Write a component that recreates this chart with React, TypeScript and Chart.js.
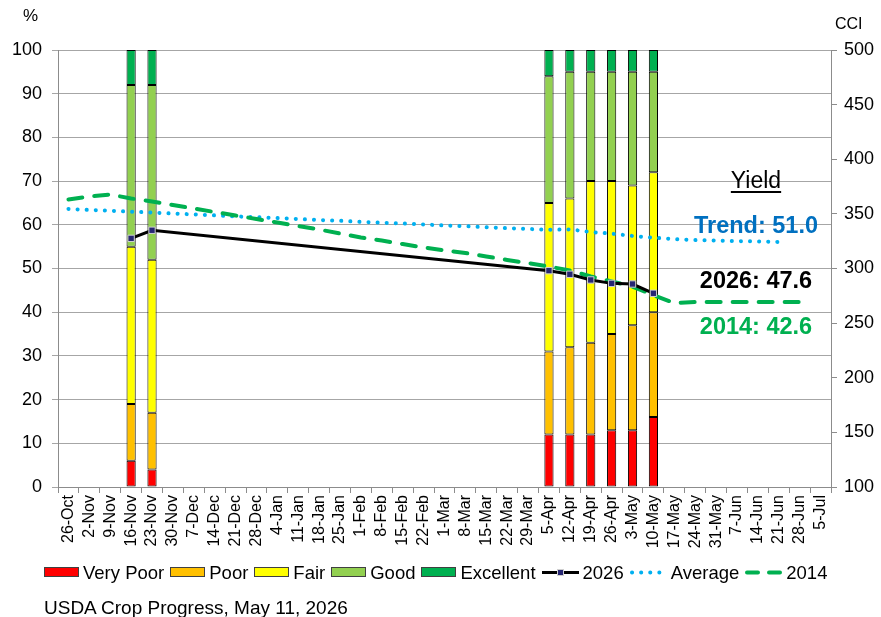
import React, { useEffect, useRef } from "react";
import { Chart, registerables } from "chart.js";

Chart.register(...registerables);

const weeks = [
  "26-Oct", "2-Nov", "9-Nov", "16-Nov", "23-Nov", "30-Nov", "7-Dec", "14-Dec", "21-Dec", "28-Dec",
  "4-Jan", "11-Jan", "18-Jan", "25-Jan", "1-Feb", "8-Feb", "15-Feb", "22-Feb", "1-Mar", "8-Mar",
  "15-Mar", "22-Mar", "29-Mar", "5-Apr", "12-Apr", "19-Apr", "26-Apr", "3-May", "10-May", "17-May",
  "24-May", "31-May", "7-Jun", "14-Jun", "21-Jun", "28-Jun", "5-Jul",
];

// Weeks with a condition report
const ratedWeeks = ["16-Nov", "23-Nov", "5-Apr", "12-Apr", "19-Apr", "26-Apr", "3-May", "10-May"];
const veryPoor = [6, 4, 12, 12, 12, 13, 13, 16];
const poor = [13, 13, 19, 20, 21, 22, 24, 24];
const fair = [36, 35, 34, 34, 37, 35, 32, 32];
const good = [37, 40, 29, 29, 25, 25, 26, 23];
const excellent = [8, 8, 6, 5, 5, 5, 5, 5];
const cci2026 = [327.6, 335.0, 298.0, 294.7, 289.5, 286.4, 285.8, 277.3];

// Weekly CCI, starting 26-Oct
const cciAverage = [
  354.5, 353.6, 352.9, 352.0, 351.2, 350.3, 349.5, 348.6, 347.7, 346.9,
  346.2, 345.3, 344.4, 343.7, 342.7, 341.9, 341.2, 340.3, 339.4, 338.7,
  337.8, 336.9, 336.2, 335.4, 335.8, 333.4, 331.9, 329.8, 328.2, 326.9,
  326.0, 325.6, 325.1, 324.8, 324.3,
];
const cci2014 = [
  363.2, 365.9, 367.7, 364.1, 361.3, 358.1, 354.9, 351.7, 348.5, 345.3,
  342.1, 338.9, 335.7, 332.0, 328.4, 325.6, 322.4, 319.2, 316.5, 314.2,
  311.0, 307.8, 305.0, 301.8, 298.2, 292.7, 288.1, 283.5, 275.7, 268.4,
  269.3, 269.3, 269.3, 269.3, 269.3, 269.3,
];

const yLeftTicks = { min: 0, max: 100, step: 10 };
const yRightTicks = { min: 100, max: 500, step: 50 };

const yieldTitle = "Yield";
const yieldNotes = [
  { text: "Trend: 51.0", color: "#0070C0", center: 225 },
  { text: "2026: 47.6", color: "#000000", center: 280 },
  { text: "2014: 42.6", color: "#00B050", center: 326 },
];
const footer = "USDA Crop Progress, May 11, 2026";

const FONT = "'Liberation Sans', Arial, Helvetica, sans-serif";
const C_VP = "#FF0000";
const C_P = "#FFC000";
const C_F = "#FFFF00";
const C_G = "#92D050";
const C_E = "#00B050";
const C_AVG = "#00B0F0";
const C_2014 = "#00B050";
const C_MARK = "#262673";

function expand(vals: number[]): (number | null)[] {
  return weeks.map((w) => {
    const i = ratedWeeks.indexOf(w);
    return i >= 0 ? vals[i] : null;
  });
}
function pad(vals: number[]): (number | null)[] {
  return weeks.map((_, i) => (i < vals.length ? vals[i] : null));
}

const legendItems = [
  { label: "Very Poor", kind: "box", color: C_VP },
  { label: "Poor", kind: "box", color: C_P },
  { label: "Fair", kind: "box", color: C_F },
  { label: "Good", kind: "box", color: C_G },
  { label: "Excellent", kind: "box", color: C_E },
  { label: "2026", kind: "marker", color: "#000" },
  { label: "Average", kind: "dots", color: C_AVG },
  { label: "2014", kind: "dash", color: C_2014 },
];

function Swatch({ kind, color }: { kind: string; color: string }) {
  if (kind === "box") {
    return (
      <svg width={35} height={11} style={{ display: "block" }}>
        <rect x={0.5} y={0.5} width={34} height={9} fill={color} stroke="#404040" strokeWidth={1} />
      </svg>
    );
  }
  if (kind === "marker") {
    return (
      <svg width={37} height={11} style={{ display: "block" }}>
        <line x1={0} y1={5.5} x2={37} y2={5.5} stroke="#000" strokeWidth={3} />
        <rect x={15.5} y={2.5} width={6} height={6} fill={C_MARK} stroke="#d0d0d0" strokeWidth={1} />
      </svg>
    );
  }
  if (kind === "dots") {
    return (
      <svg width={37} height={11} style={{ display: "block" }}>
        <line x1={2} y1={5.5} x2={36} y2={5.5} stroke={color} strokeWidth={4} strokeLinecap="round" strokeDasharray="0.1 9" />
      </svg>
    );
  }
  return (
    <svg width={37} height={11} style={{ display: "block" }}>
      <line x1={2} y1={5.5} x2={13} y2={5.5} stroke={color} strokeWidth={4} strokeLinecap="round" />
      <line x1={24} y1={5.5} x2={35} y2={5.5} stroke={color} strokeWidth={4} strokeLinecap="round" />
    </svg>
  );
}

export default function App() {
  const ref = useRef<HTMLCanvasElement | null>(null);

  useEffect(() => {
    if (!ref.current) return;
    const barCommon = {
      type: "bar" as const,
      yAxisID: "y",
      stack: "cond",
      borderColor: "#000000",
      borderWidth: 1,
      borderSkipped: false,
      barPercentage: 0.44,
      categoryPercentage: 1,
      order: 5,
    };
    const chart = new Chart(ref.current, {
      type: "bar",
      data: {
        labels: weeks,
        datasets: [
          { ...barCommon, label: "Very Poor", data: expand(veryPoor), backgroundColor: C_VP },
          { ...barCommon, label: "Poor", data: expand(poor), backgroundColor: C_P },
          { ...barCommon, label: "Fair", data: expand(fair), backgroundColor: C_F },
          { ...barCommon, label: "Good", data: expand(good), backgroundColor: C_G },
          { ...barCommon, label: "Excellent", data: expand(excellent), backgroundColor: C_E },
          {
            type: "line",
            label: "Average",
            yAxisID: "y1",
            data: pad(cciAverage),
            borderColor: C_AVG,
            borderWidth: 4,
            borderDash: [0.1, 9],
            borderCapStyle: "round",
            pointRadius: 0,
            tension: 0,
            spanGaps: false,
            order: 3,
          },
          {
            type: "line",
            label: "2014",
            yAxisID: "y1",
            data: pad(cci2014),
            borderColor: C_2014,
            borderWidth: 4,
            borderDash: [14, 12],
            borderCapStyle: "round",
            pointRadius: 0,
            tension: 0,
            order: 2,
          },
          {
            type: "line",
            label: "2026",
            yAxisID: "y1",
            data: expand(cci2026),
            borderColor: "#000000",
            borderWidth: 3,
            pointStyle: "rect",
            pointRadius: 4.5,
            pointBackgroundColor: C_MARK,
            pointBorderColor: "#d0d0d0",
            pointBorderWidth: 1,
            spanGaps: true,
            tension: 0,
            order: 1,
          },
        ] as any,
      },
      options: {
        animation: false,
        responsive: false,
        devicePixelRatio: 1,
        events: [],
        layout: { padding: { top: 50, left: 0, right: 0, bottom: 0 } },
        plugins: {
          legend: { display: false },
          tooltip: { enabled: false },
          title: { display: false },
        },
        scales: {
          x: {
            type: "category",
            stacked: true,
            offset: true,
            grid: {
              offset: true,
              drawOnChartArea: false,
              drawTicks: true,
              tickLength: 6,
              color: "#8c8c8c",
            },
            border: { color: "#8c8c8c" },
            ticks: {
              autoSkip: false,
              maxRotation: 90,
              minRotation: 90,
              color: "#000",
              padding: 2,
              font: { family: FONT, size: 16 },
            },
            afterFit: (s: any) => {
              s.height = 130;
            },
          },
          y: {
            position: "left",
            stacked: true,
            min: yLeftTicks.min,
            max: yLeftTicks.max,
            grid: { color: "#a6a6a6", tickLength: 6 },
            border: { color: "#8c8c8c" },
            ticks: {
              stepSize: yLeftTicks.step,
              color: "#000",
              padding: 10,
              font: { family: FONT, size: 18 },
            },
            afterFit: (s: any) => {
              s.width = 58;
            },
          },
          y1: {
            position: "right",
            min: yRightTicks.min,
            max: yRightTicks.max,
            grid: { drawOnChartArea: false, color: "#8c8c8c", tickLength: 6 },
            border: { color: "#8c8c8c" },
            ticks: {
              stepSize: yRightTicks.step,
              color: "#000",
              padding: 7,
              font: { family: FONT, size: 18 },
            },
            afterFit: (s: any) => {
              s.width = 50;
            },
          },
        },
      } as any,
    });
    return () => chart.destroy();
  }, []);

  return (
    <div
      style={{
        position: "fixed",
        left: 0,
        top: 0,
        width: 881,
        height: 617,
        background: "#fff",
        fontFamily: FONT,
        color: "#000",
        overflow: "hidden",
      }}
    >
      <canvas ref={ref} width={881} height={617} style={{ position: "absolute", left: 0, top: 0, width: 881, height: 617 }} />
      <div style={{ position: "absolute", left: 23, top: 7, fontSize: 17, lineHeight: "17px" }}>%</div>
      <div style={{ position: "absolute", left: 835, top: 16, fontSize: 16, lineHeight: "16px" }}>CCI</div>
      <div
        style={{
          position: "absolute",
          left: 656,
          width: 200,
          top: 169,
          textAlign: "center",
          fontSize: 23,
          lineHeight: "23px",
          textDecoration: "underline",
          textUnderlineOffset: 3,
        }}
      >
        {yieldTitle}
      </div>
      {yieldNotes.map((n) => (
        <div
          key={n.text}
          style={{
            position: "absolute",
            left: 656,
            width: 200,
            top: n.center - 11,
            textAlign: "center",
            fontSize: 23.5,
            lineHeight: "23px",
            fontWeight: "bold",
            color: n.color,
          }}
        >
          {n.text}
        </div>
      ))}
      <div
        style={{
          position: "absolute",
          left: 44,
          top: 563,
          height: 19,
          display: "flex",
          alignItems: "center",
          fontSize: 18.5,
          lineHeight: "19px",
          whiteSpace: "nowrap",
        }}
      >
        {legendItems.map((it) => (
          <div key={it.label} style={{ display: "flex", alignItems: "center", marginRight: 6 }}>
            <Swatch kind={it.kind} color={it.color} />
            <span style={{ marginLeft: 4 }}>{it.label}</span>
          </div>
        ))}
      </div>
      <div style={{ position: "absolute", left: 44, top: 598, fontSize: 19, lineHeight: "19px", whiteSpace: "nowrap" }}>
        {footer}
      </div>
    </div>
  );
}
